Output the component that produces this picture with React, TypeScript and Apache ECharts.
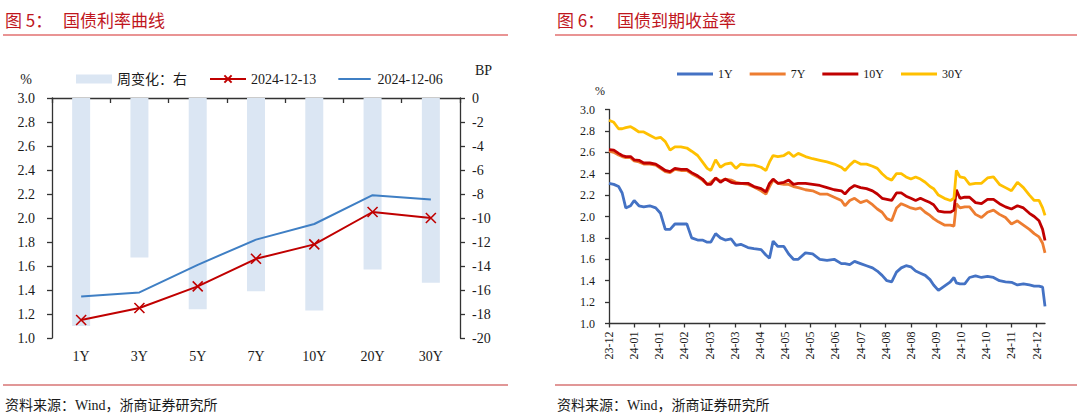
import React, { useEffect, useRef } from 'react';
import * as echarts from 'echarts';

// ---------- Figure 5: treasury yield curve ----------
const CURVE_TENORS = ['1Y', '3Y', '5Y', '7Y', '10Y', '20Y', '30Y'];
const YIELD_20241213 = [1.15, 1.25, 1.43, 1.66, 1.78, 2.05, 2.0];
const YIELD_20241206 = [1.345, 1.38, 1.61, 1.82, 1.95, 2.19, 2.155];
const WEEKLY_CHANGE_BP = [-19.0, -13.3, -17.6, -16.1, -17.7, -14.3, -15.4];

// ---------- Figure 6: treasury yields to maturity ----------
// days since 2023-12-15
const DAY_OFFSETS = [0, 4, 8, 11, 14, 18, 21, 25, 29, 34, 39, 43, 47, 51, 55, 60, 65, 69, 74, 78, 82, 85, 89, 93, 97, 102, 106, 110, 116, 121, 127, 131, 134, 137, 141, 146, 150, 154, 158, 164, 170, 176, 182, 188, 194, 197, 201, 205, 210, 215, 220, 224, 228, 232, 236, 240, 244, 248, 252, 256, 260, 264, 268, 271, 275, 280, 285, 288, 290, 293, 297, 301, 306, 311, 316, 321, 326, 331, 336, 341, 346, 351, 355, 359, 362, 364];
const YTM_1Y = [2.31, 2.3, 2.28, 2.22, 2.08, 2.1, 2.15, 2.1, 2.09, 2.1, 2.08, 2.03, 1.88, 1.88, 1.93, 1.93, 1.93, 1.8, 1.78, 1.78, 1.76, 1.76, 1.84, 1.8, 1.78, 1.79, 1.73, 1.74, 1.71, 1.7, 1.69, 1.64, 1.61, 1.77, 1.72, 1.72, 1.65, 1.6, 1.6, 1.66, 1.65, 1.6, 1.59, 1.6, 1.56, 1.56, 1.55, 1.58, 1.56, 1.54, 1.52, 1.49, 1.45, 1.4, 1.39, 1.48, 1.52, 1.54, 1.53, 1.49, 1.47, 1.45, 1.41, 1.36, 1.31, 1.35, 1.39, 1.43, 1.38, 1.37, 1.37, 1.43, 1.445, 1.43, 1.44, 1.43, 1.4, 1.39, 1.385, 1.36, 1.37, 1.36, 1.35, 1.35, 1.34, 1.16];
const YTM_7Y = [2.61, 2.6, 2.575, 2.56, 2.55, 2.55, 2.52, 2.51, 2.49, 2.49, 2.48, 2.45, 2.42, 2.41, 2.44, 2.43, 2.43, 2.4, 2.37, 2.34, 2.3, 2.32, 2.36, 2.33, 2.35, 2.34, 2.32, 2.31, 2.3, 2.275, 2.24, 2.21, 2.28, 2.34, 2.31, 2.3, 2.3, 2.28, 2.27, 2.25, 2.24, 2.21, 2.21, 2.18, 2.15, 2.1, 2.15, 2.17, 2.13, 2.15, 2.11, 2.07, 2.04, 1.98, 1.96, 2.08, 2.12, 2.1, 2.08, 2.07, 2.08, 2.04, 2.01, 1.98, 1.95, 1.92, 1.92, 1.91, 2.12, 2.08, 2.09, 2.09, 2.02, 1.99, 2.04, 2.06, 2.02, 1.99, 1.93, 1.96, 1.92, 1.88, 1.84, 1.81, 1.75, 1.66];
const YTM_10Y = [2.625, 2.62, 2.59, 2.57, 2.56, 2.56, 2.53, 2.525, 2.5, 2.5, 2.49, 2.46, 2.43, 2.42, 2.45, 2.44, 2.44, 2.41, 2.38, 2.35, 2.3, 2.3, 2.36, 2.32, 2.35, 2.32, 2.31, 2.31, 2.31, 2.28, 2.26, 2.23, 2.31, 2.35, 2.31, 2.32, 2.34, 2.3, 2.31, 2.31, 2.3, 2.29, 2.27, 2.25, 2.24, 2.21, 2.26, 2.29, 2.27, 2.26, 2.24, 2.21, 2.17, 2.16, 2.15, 2.22, 2.22, 2.19, 2.17, 2.15, 2.17, 2.15, 2.13, 2.11, 2.05, 2.04, 2.04, 2.06, 2.25, 2.17, 2.18, 2.18, 2.13, 2.12, 2.16, 2.16, 2.12, 2.09, 2.07, 2.1, 2.08, 2.03, 2.0, 1.96, 1.88, 1.775];
const YTM_30Y = [2.9, 2.88, 2.82, 2.82, 2.83, 2.84, 2.82, 2.79, 2.79, 2.76, 2.73, 2.74, 2.7, 2.62, 2.65, 2.65, 2.64, 2.61, 2.57, 2.51, 2.45, 2.43, 2.53, 2.46, 2.49, 2.5, 2.45, 2.49, 2.48, 2.48, 2.46, 2.43, 2.51, 2.57, 2.56, 2.57, 2.6, 2.56, 2.59, 2.56, 2.54, 2.525, 2.51, 2.49, 2.46, 2.43, 2.48, 2.52, 2.49, 2.49, 2.47, 2.45, 2.4, 2.36, 2.34, 2.4, 2.4, 2.37, 2.35, 2.37, 2.35, 2.32, 2.28, 2.26, 2.2, 2.17, 2.15, 2.17, 2.43, 2.37, 2.36, 2.3, 2.31, 2.31, 2.36, 2.37, 2.3, 2.27, 2.24, 2.32, 2.27, 2.2, 2.15, 2.15, 2.08, 2.01];
const DATE_TICK_DAYS = [0, 21, 42, 63, 84, 105, 126, 147, 168, 189, 210, 231, 252, 273, 294, 315, 336, 357];
const DATE_TICK_LABELS = ['23-12', '24-01', '24-01', '24-02', '24-03', '24-03', '24-04', '24-05', '24-05', '24-06', '24-07', '24-08', '24-08', '24-09', '24-10', '24-10', '24-11', '24-12'];

const SERIF = '"Liberation Serif", "Times New Roman", "Noto Sans CJK SC", serif';
const CJK = '"Noto Sans CJK SC", sans-serif';
const TXT = '#1a1a1a';
const AXIS = '#333333';
const TITLE_RED = '#c0161d';
// thin horizontal stroke inside a 36x10 box (keeps legend icon a plain line)
const LINE_ICON = 'path://M0,0M0,4H36V6H0ZM36,10';

const pairs = (xs: number[], ys: number[]) => xs.map((x, i) => [x, ys[i]]);

export default function App() {
  const ref = useRef<HTMLDivElement>(null);

  useEffect(() => {
    const chart = echarts.init(ref.current!, undefined, { renderer: 'svg' });
    const axisLine = { show: true, lineStyle: { color: AXIS, width: 1.3 } };
    const axisTick = { show: true, inside: false, length: 5, lineStyle: { color: AXIS, width: 1.3 } };
    const option: any = {
      animation: false,
      textStyle: { fontFamily: SERIF },
      grid: [
        { left: 52, top: 98, width: 408, height: 240 },
        { left: 609, top: 109.5, width: 436, height: 214 },
      ],
      legend: [
        {
          data: [
            { name: '周变化：右', icon: 'rect' },
            { name: '2024-12-13' },
            { name: '2024-12-06', icon: LINE_ICON },
          ],
          left: 71,
          top: 67,
          itemWidth: 36,
          itemHeight: 9,
          itemGap: 22,
          textStyle: { fontSize: 14, color: TXT, fontFamily: SERIF },
        },
        {
          data: ['1Y', '7Y', '10Y', '30Y'],
          icon: 'rect',
          left: 672,
          top: 63,
          itemWidth: 36,
          itemHeight: 3,
          itemGap: 17,
          textStyle: { fontSize: 12, color: TXT, fontFamily: SERIF },
        },
      ],
      xAxis: [
        {
          type: 'category',
          gridIndex: 0,
          data: CURVE_TENORS,
          boundaryGap: true,
          axisLine,
          axisTick,
          axisLabel: { fontSize: 14, color: TXT, margin: 11, fontFamily: SERIF },
          splitLine: { show: false },
        },
        {
          type: 'value',
          gridIndex: 1,
          min: 0,
          max: 364,
          interval: 21,
          axisLine,
          axisTick: { ...axisTick, length: 4, customValues: DATE_TICK_DAYS },
          axisLabel: {
            fontSize: 12,
            color: TXT,
            rotate: 90,
            margin: 8,
            fontFamily: SERIF,
            customValues: DATE_TICK_DAYS,
            formatter: (v: number) => {
              const i = DATE_TICK_DAYS.indexOf(v);
              return i >= 0 ? DATE_TICK_LABELS[i] : '';
            },
          },
          splitLine: { show: false },
        },
      ],
      yAxis: [
        {
          type: 'value',
          gridIndex: 0,
          min: 1,
          max: 3,
          interval: 0.2,
          axisLine,
          axisTick,
          axisLabel: { fontSize: 14, color: TXT, margin: 17, fontFamily: SERIF, formatter: (v: number) => v.toFixed(1) },
          splitLine: { show: false },
        },
        {
          type: 'value',
          gridIndex: 0,
          position: 'right',
          min: -20,
          max: 0,
          interval: 2,
          axisLine,
          axisTick,
          axisLabel: { fontSize: 14, color: TXT, margin: 12, fontFamily: SERIF },
          splitLine: { show: false },
        },
        {
          type: 'value',
          gridIndex: 1,
          min: 1,
          max: 3,
          interval: 0.2,
          axisLine,
          axisTick: { ...axisTick, length: 4 },
          axisLabel: { fontSize: 12, color: TXT, margin: 14, fontFamily: SERIF, formatter: (v: number) => v.toFixed(1) },
          splitLine: { show: false },
        },
      ],
      series: [
        {
          name: '周变化：右',
          type: 'bar',
          xAxisIndex: 0,
          yAxisIndex: 1,
          data: WEEKLY_CHANGE_BP,
          barWidth: 18,
          itemStyle: { color: '#dbe6f3' },
        },
        {
          name: '2024-12-13',
          type: 'line',
          xAxisIndex: 0,
          yAxisIndex: 0,
          data: YIELD_20241213,
          symbol: 'path://M0,0L10,10M10,0L0,10',
          symbolSize: 10,
          lineStyle: { color: '#c00000', width: 2 },
          itemStyle: { color: '#c00000', borderColor: '#c00000', borderWidth: 1.6 },
        },
        {
          name: '2024-12-06',
          type: 'line',
          xAxisIndex: 0,
          yAxisIndex: 0,
          data: YIELD_20241206,
          symbol: 'none',
          lineStyle: { color: '#3f7fc4', width: 2 },
          itemStyle: { color: '#3f7fc4' },
        },
        {
          name: '1Y',
          type: 'line',
          xAxisIndex: 1,
          yAxisIndex: 2,
          data: pairs(DAY_OFFSETS, YTM_1Y),
          symbol: 'none',
          lineStyle: { color: '#4472c4', width: 2.8 },
          itemStyle: { color: '#4472c4' },
        },
        {
          name: '7Y',
          type: 'line',
          xAxisIndex: 1,
          yAxisIndex: 2,
          data: pairs(DAY_OFFSETS, YTM_7Y),
          symbol: 'none',
          lineStyle: { color: '#ed7d31', width: 2.8 },
          itemStyle: { color: '#ed7d31' },
        },
        {
          name: '10Y',
          type: 'line',
          xAxisIndex: 1,
          yAxisIndex: 2,
          data: pairs(DAY_OFFSETS, YTM_10Y),
          symbol: 'none',
          lineStyle: { color: '#c00000', width: 2.8 },
          itemStyle: { color: '#c00000' },
        },
        {
          name: '30Y',
          type: 'line',
          xAxisIndex: 1,
          yAxisIndex: 2,
          data: pairs(DAY_OFFSETS, YTM_30Y),
          symbol: 'none',
          lineStyle: { color: '#ffc000', width: 2.8 },
          itemStyle: { color: '#ffc000' },
        },
      ],
      graphic: [
        { type: 'text', x: 5, y: 19, style: { text: '图 5：', fill: TITLE_RED, fontSize: 17, fontFamily: CJK, verticalAlign: 'middle' } },
        { type: 'text', x: 63, y: 19, style: { text: '国债利率曲线', fill: TITLE_RED, fontSize: 17, fontFamily: CJK, verticalAlign: 'middle' } },
        { type: 'line', shape: { x1: 3, y1: 35, x2: 508, y2: 35 }, style: { stroke: '#d42a2a', lineWidth: 1.2 } },
        { type: 'text', x: 557, y: 19, style: { text: '图 6：', fill: TITLE_RED, fontSize: 17, fontFamily: CJK, verticalAlign: 'middle' } },
        { type: 'text', x: 617, y: 19, style: { text: '国债到期收益率', fill: TITLE_RED, fontSize: 17, fontFamily: CJK, verticalAlign: 'middle' } },
        { type: 'line', shape: { x1: 555, y1: 35, x2: 1077, y2: 35 }, style: { stroke: '#d42a2a', lineWidth: 1.2 } },
        { type: 'text', x: 26, y: 79, style: { text: '%', fill: TXT, fontSize: 14, fontFamily: SERIF, align: 'center', verticalAlign: 'middle' } },
        { type: 'text', x: 475, y: 70, style: { text: 'BP', fill: TXT, fontSize: 14, fontFamily: SERIF, verticalAlign: 'middle' } },
        { type: 'text', x: 600, y: 91, style: { text: '%', fill: TXT, fontSize: 12, fontFamily: SERIF, align: 'center', verticalAlign: 'middle' } },
        { type: 'line', shape: { x1: 3, y1: 385, x2: 508, y2: 385 }, style: { stroke: '#c43030', lineWidth: 1.2 } },
        { type: 'line', shape: { x1: 555, y1: 385, x2: 1077, y2: 385 }, style: { stroke: '#c43030', lineWidth: 1.2 } },
        { type: 'text', x: 5, y: 405, style: { text: '资料来源：Wind，浙商证券研究所', fill: TXT, fontSize: 14, fontFamily: SERIF, verticalAlign: 'middle' } },
        { type: 'text', x: 557, y: 405, style: { text: '资料来源：Wind，浙商证券研究所', fill: TXT, fontSize: 14, fontFamily: SERIF, verticalAlign: 'middle' } },
      ],
    };
    chart.setOption(option);
    return () => chart.dispose();
  }, []);

  return (
    <div
      ref={ref}
      style={{ position: 'absolute', left: 0, top: 0, width: 1080, height: 419, background: '#ffffff' }}
    />
  );
}
